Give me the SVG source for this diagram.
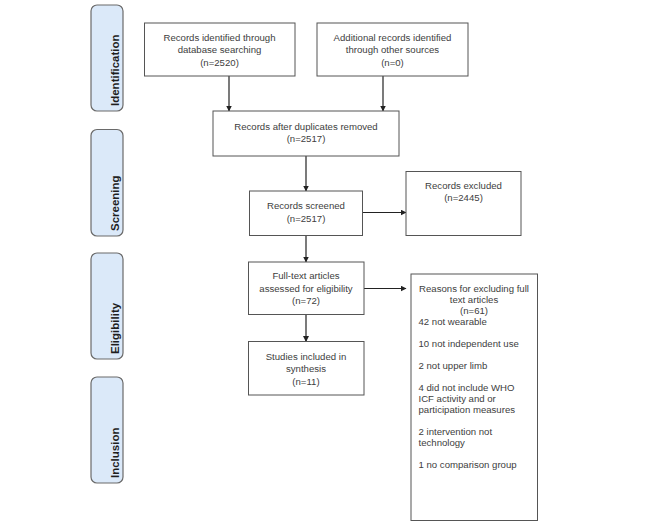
<svg xmlns="http://www.w3.org/2000/svg" width="649" height="526" viewBox="0 0 649 526">
<style>
.stage{fill:#dbe9f9;stroke:#6a6a6a;stroke-width:1.2}
.stxt{font-family:"Liberation Sans",Arial,sans-serif;font-size:11.5px;font-weight:bold;fill:#1e1e1e}
.box{fill:#ffffff;stroke:#555555;stroke-width:1}
.t{font-family:"Liberation Sans",Arial,sans-serif;font-size:9.6px;fill:#404040;text-anchor:middle}
.tl{font-family:"Liberation Sans",Arial,sans-serif;font-size:9.6px;fill:#404040}
.arr{stroke:#222222;stroke-width:1.2;fill:none;marker-end:url(#ah)}
</style>
<defs>
<marker id="ah" markerWidth="6" markerHeight="6" refX="5.5" refY="3" orient="auto" markerUnits="userSpaceOnUse">
<path d="M0,0 L6,3 L0,6 z" fill="#222222"/>
</marker>
</defs>
<rect width="649" height="526" fill="#ffffff"/>
<g id="stage-identification">
<rect class="stage" x="91" y="5" width="32" height="106" rx="6"/>
<text class="stxt" transform="translate(118.5,106) rotate(-90)">Identification</text>
</g>
<g id="stage-screening">
<rect class="stage" x="91" y="129.5" width="32" height="106.5" rx="6"/>
<text class="stxt" transform="translate(118.5,231) rotate(-90)">Screening</text>
</g>
<g id="stage-eligibility">
<rect class="stage" x="91" y="253" width="32" height="106" rx="6"/>
<text class="stxt" transform="translate(118.5,354) rotate(-90)">Eligibility</text>
</g>
<g id="stage-inclusion">
<rect class="stage" x="91" y="377" width="32" height="106" rx="6"/>
<text class="stxt" transform="translate(118.5,478) rotate(-90)">Inclusion</text>
</g>
<g id="connectors">
<line class="arr" x1="229" y1="76" x2="229" y2="111"/>
<line class="arr" x1="383" y1="76" x2="383" y2="111"/>
<line class="arr" x1="306" y1="156" x2="306" y2="191"/>
<line class="arr" x1="362.5" y1="212.5" x2="406" y2="212.5"/>
<line class="arr" x1="306" y1="235.5" x2="306" y2="262"/>
<line class="arr" x1="364" y1="288.5" x2="406" y2="288.5"/>
<line class="arr" x1="306" y1="314.5" x2="306" y2="341.5"/>
</g>
<g id="n-db">
<rect class="box" x="144.5" y="23" width="150.5" height="53"/>
<text class="t" x="219.5" y="41">Records identified through</text>
<text class="t" x="219.5" y="53.3">database searching</text>
<text class="t" x="219.5" y="65.6">(n=2520)</text>
</g>
<g id="n-other">
<rect class="box" x="317" y="23" width="151" height="53"/>
<text class="t" x="392.5" y="41">Additional records identified</text>
<text class="t" x="392.5" y="53.3">through other sources</text>
<text class="t" x="392.5" y="65.6">(n=0)</text>
</g>
<g id="n-dup">
<rect class="box" x="213" y="111" width="186" height="45"/>
<text class="t" x="306" y="130">Records after duplicates removed</text>
<text class="t" x="306" y="141.5">(n=2517)</text>
</g>
<g id="n-screened">
<rect class="box" x="249.5" y="191" width="113" height="44.5"/>
<text class="t" x="306" y="208.5">Records screened</text>
<text class="t" x="306" y="221.5">(n=2517)</text>
</g>
<g id="n-excluded">
<rect class="box" x="406" y="171.5" width="115" height="64"/>
<text class="t" x="463.5" y="188.5">Records excluded</text>
<text class="t" x="463.5" y="201">(n=2445)</text>
</g>
<g id="n-fulltext">
<rect class="box" x="248.5" y="262" width="115.5" height="52.5"/>
<text class="t" x="306" y="279">Full-text articles</text>
<text class="t" x="306" y="291.5">assessed for eligibility</text>
<text class="t" x="306" y="304">(n=72)</text>
</g>
<g id="n-reasons">
<rect class="box" x="411" y="274" width="126.5" height="246.5"/>
<text class="t" x="474" y="292.3">Reasons for excluding full</text>
<text class="t" x="474" y="303.3">text articles</text>
<text class="t" x="474" y="314.3">(n=61)</text>
<text class="tl" x="418.5" y="325.3">42 not wearable</text>
<text class="tl" x="418.5" y="347.3">10 not independent use</text>
<text class="tl" x="418.5" y="369.3">2 not upper limb</text>
<text class="tl" x="418.5" y="391.3">4 did not include WHO</text>
<text class="tl" x="418.5" y="402.3">ICF activity and or</text>
<text class="tl" x="418.5" y="413.3">participation measures</text>
<text class="tl" x="418.5" y="435.3">2 intervention not</text>
<text class="tl" x="418.5" y="446.3">technology</text>
<text class="tl" x="418.5" y="468.3">1 no comparison group</text>
</g>
<g id="n-included">
<rect class="box" x="248.5" y="341.5" width="115.5" height="53.5"/>
<text class="t" x="306" y="359.5">Studies included in</text>
<text class="t" x="306" y="372">synthesis</text>
<text class="t" x="306" y="384.5">(n=11)</text>
</g>
</svg>
